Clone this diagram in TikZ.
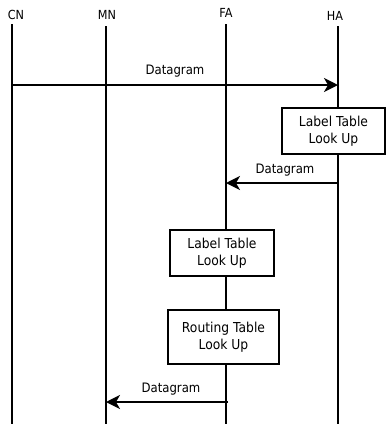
\documentclass[tikz,border=0pt]{standalone}
\usepackage{fontspec}
\setmainfont{DejaVu Sans}[FakeStretch=0.9]
\usetikzlibrary{arrows.meta}
\begin{document}
\begin{tikzpicture}[x=1pt,y=-1pt,
  lbl/.style={inner sep=0pt,font=\fontsize{12.5}{13}\selectfont},
  msg/.style={inner sep=0pt,font=\fontsize{13}{14}\selectfont},
  life/.style={line width=2pt},
  arr/.style={line width=2pt,-{Stealth[length=14pt,width=14pt,inset=4pt]}},
  procbox/.style={draw,line width=2pt,fill=white,inner sep=0pt,align=center,
    font=\fontsize{13.7}{17.5}\selectfont}]
\useasboundingbox (0,0) rectangle (386,424);
% participant labels
\node[lbl] (cn) at (16,15) {CN};
\node[lbl] (mn) at (107,15) {MN};
\node[lbl] (fa) at (226,13) {FA};
\node[lbl] (ha) at (335,16) {HA};
% lifeline ends
\coordinate (cnT) at (12,24);   \coordinate (cnB) at (12,424);
\coordinate (mnT) at (106,26);  \coordinate (mnB) at (106,424);
\coordinate (faT) at (226,24);  \coordinate (faB) at (226,424);
\coordinate (haT) at (338,26);  \coordinate (haB) at (338,424);
\draw[life] (cnT) -- (cnB);
\draw[life] (mnT) -- (mnB);
\draw[life] (faT) -- (faB);
\draw[life] (haT) -- (haB);
% message end points
\coordinate (m1s) at (12,85);   \coordinate (m1e) at (338,85);
\coordinate (m2s) at (338,183); \coordinate (m2e) at (226,183);
\coordinate (m3s) at (228,402); \coordinate (m3e) at (106,402);
% processing boxes
\node[procbox,minimum width=103pt,minimum height=46pt] (b1) at (333.5,131)
  {Label Table\\Look Up};
\node[procbox,minimum width=104pt,minimum height=46pt] (b2) at (222,253)
  {Label Table\\Look Up};
\node[procbox,minimum width=111pt,minimum height=54pt] (b3) at (223.5,337)
  {Routing Table\\Look Up};
% messages
\draw[arr] (m1s) -- (m1e);
\node[msg] (d1) at (175,71) {Datagram};
\draw[arr] (m2s) -- (m2e);
\node[msg] (d2) at (285,170) {Datagram};
\draw[arr] (m3s) -- (m3e);
\node[msg] (d3) at (171,389) {Datagram};
\end{tikzpicture}
\end{document}
